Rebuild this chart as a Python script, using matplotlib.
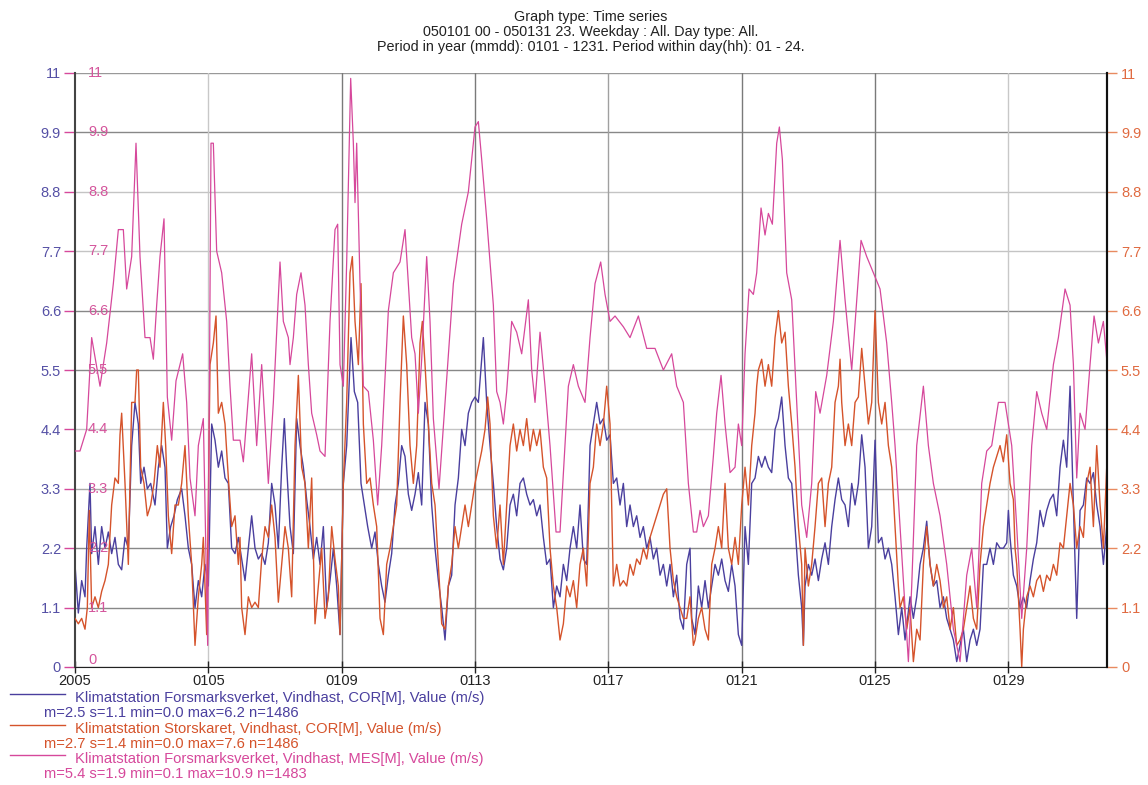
import matplotlib
matplotlib.use("Agg")
import matplotlib.pyplot as plt
from matplotlib.lines import Line2D

plt.rcParams['font.family'] = ['Liberation Sans', 'DejaVu Sans']

# day offsets from 2005-01-01 00:00, values in m/s
blue_days = [0, 0.1, 0.2, 0.3, 0.35, 0.45, 0.5, 0.6, 0.7, 0.8, 0.9, 1.0, 1.1, 1.2, 1.3, 1.4, 1.5, 1.6, 1.7, 1.8,
             1.9, 1.97, 2.07, 2.17, 2.27, 2.4, 2.5, 2.6, 2.7, 2.77, 2.87, 2.97, 3.07, 3.2, 3.3, 3.4, 3.5, 3.6, 3.7, 3.8,
             3.9, 4.0, 4.1, 4.2, 4.3, 4.4, 4.5, 4.6, 4.7, 4.8, 4.9, 5.0, 5.1, 5.2, 5.3, 5.4, 5.5, 5.6, 5.7, 5.8,
             5.9, 6.0, 6.1, 6.2, 6.28, 6.35, 6.45, 6.55, 6.65, 6.75, 6.85, 6.95, 7.05, 7.15, 7.25, 7.35, 7.45, 7.55, 7.65, 7.75,
             7.85, 7.95, 8.05, 8.15, 8.28, 8.38, 8.48, 8.58, 8.68, 8.78, 8.9, 9.0, 9.1, 9.2, 9.3, 9.4, 9.5, 9.6, 9.7, 9.8,
             9.9, 10.0, 10.1, 10.2, 10.3, 10.4, 10.5, 10.6, 10.7, 10.8, 10.9, 11.0, 11.1, 11.2, 11.3, 11.4, 11.5, 11.6, 11.7, 11.8,
             11.9, 12.0, 12.1, 12.25, 12.35, 12.45, 12.55, 12.65, 12.75, 12.85, 12.95, 13.05, 13.15, 13.25, 13.35, 13.45, 13.55, 13.65, 13.75, 13.85,
             13.95, 14.05, 14.15, 14.25, 14.35, 14.45, 14.55, 14.65, 14.75, 14.85, 14.95, 15.05, 15.15, 15.25, 15.35, 15.45, 15.55, 15.65, 15.75, 15.85,
             15.95, 16.05, 16.15, 16.25, 16.35, 16.45, 16.55, 16.65, 16.75, 16.85, 16.95, 17.05, 17.15, 17.25, 17.35, 17.45, 17.55, 17.65, 17.75, 17.85,
             17.95, 18.05, 18.15, 18.25, 18.35, 18.45, 18.5, 18.6, 18.7, 18.8, 18.9, 19.0, 19.1, 19.2, 19.3, 19.4, 19.5, 19.6, 19.7, 19.8,
             19.9, 20.0, 20.1, 20.2, 20.3, 20.4, 20.5, 20.6, 20.7, 20.8, 20.9, 21.0, 21.1, 21.2, 21.3, 21.4, 21.5, 21.6, 21.7, 21.8,
             21.85, 21.9, 22.0, 22.1, 22.2, 22.3, 22.4, 22.5, 22.6, 22.7, 22.8, 22.9, 23.0, 23.1, 23.2, 23.3, 23.4, 23.5, 23.6, 23.7,
             23.8, 23.9, 24.0, 24.1, 24.2, 24.3, 24.4, 24.5, 24.6, 24.7, 24.8, 24.9, 25.05, 25.15, 25.25, 25.35, 25.45, 25.55, 25.65, 25.75,
             25.85, 25.95, 26.05, 26.15, 26.25, 26.35, 26.45, 26.55, 26.65, 26.75, 26.85, 26.95, 27.05, 27.15, 27.25, 27.35, 27.45, 27.55, 27.65, 27.75,
             27.85, 27.95, 28.0, 28.05, 28.15, 28.25, 28.35, 28.45, 28.55, 28.65, 28.75, 28.85, 28.95, 29.05, 29.15, 29.25, 29.35, 29.45, 29.55, 29.65,
             29.75, 29.85, 29.9, 29.95, 30.05, 30.15, 30.25, 30.35, 30.45, 30.55, 30.65, 30.75, 30.85, 30.95]
blue_vals = [1.9, 1.0, 1.6, 1.3, 2.2, 3.4, 2.1, 2.6, 1.9, 2.6, 2.2, 2.5, 2.1, 2.4, 1.9, 1.8, 2.4, 2.2, 4.1, 4.9,
             4.5, 3.4, 3.7, 3.3, 3.4, 3.0, 3.7, 4.1, 3.7, 2.2, 2.6, 2.8, 3.1, 3.3, 2.8, 2.2, 1.9, 1.1, 1.6, 1.3,
             1.9, 1.5, 4.5, 4.2, 3.7, 4.0, 3.5, 3.4, 2.2, 2.1, 2.4, 2.0, 1.6, 2.2, 2.8, 2.2, 2.0, 2.1, 1.9, 2.3,
             3.4, 3.0, 2.2, 3.7, 4.6, 3.7, 2.6, 2.1, 4.6, 4.1, 3.7, 3.1, 2.6, 2.0, 2.4, 1.9, 2.6, 1.1, 1.6, 2.2,
             1.5, 0.6, 3.4, 4.1, 6.1, 5.1, 4.9, 3.4, 3.0, 2.6, 2.2, 2.5, 1.9, 1.5, 1.2, 1.7, 2.1, 3.0, 3.4, 4.1,
             3.9, 3.2, 2.9, 3.2, 3.6, 3.0, 4.9, 4.5, 3.0, 2.2, 1.6, 1.1, 0.5, 1.5, 1.7, 3.0, 3.5, 4.4, 4.1, 4.7,
             4.9, 5.0, 4.9, 6.1, 4.9, 4.1, 3.4, 2.6, 2.0, 1.8, 2.2, 3.0, 3.2, 2.8, 3.4, 3.5, 3.2, 3.0, 3.1, 2.8,
             3.0, 2.4, 1.9, 2.0, 1.1, 1.5, 1.3, 1.9, 1.6, 2.2, 2.6, 2.2, 3.0, 2.0, 1.9, 4.1, 4.5, 4.9, 4.5, 4.6,
             4.2, 4.3, 3.4, 3.5, 3.0, 3.4, 2.6, 3.0, 2.6, 2.8, 2.4, 2.6, 2.2, 2.4, 2.0, 2.2, 1.7, 1.9, 1.5, 1.9,
             1.3, 1.7, 0.9, 0.7, 1.9, 2.2, 0.9, 0.6, 1.5, 1.1, 1.6, 1.1, 1.5, 1.9, 1.7, 2.0, 1.6, 1.4, 1.9, 1.5,
             0.6, 0.4, 2.6, 1.9, 3.4, 3.5, 3.9, 3.7, 3.9, 3.7, 3.6, 4.4, 4.6, 5.0, 4.1, 3.5, 3.4, 2.6, 1.7, 1.1,
             0.4, 1.5, 1.9, 1.7, 2.0, 1.6, 2.0, 2.3, 1.9, 2.6, 3.1, 3.5, 3.1, 3.0, 2.6, 3.4, 3.0, 3.4, 4.3, 3.7,
             2.2, 2.6, 4.2, 2.3, 2.4, 2.0, 2.2, 1.9, 1.3, 0.6, 1.1, 0.5, 1.3, 0.9, 1.3, 1.9, 2.2, 2.7, 1.9, 1.5,
             1.6, 1.1, 1.3, 0.9, 0.7, 0.5, 0.1, 0.4, 0.7, 0.1, 0.5, 0.7, 0.4, 0.7, 1.9, 1.9, 2.2, 1.9, 2.3, 2.2,
             2.2, 2.3, 2.9, 2.4, 1.7, 1.5, 1.1, 1.3, 1.1, 1.6, 2.0, 2.3, 2.9, 2.6, 2.9, 3.1, 3.2, 2.8, 3.7, 4.2,
             3.7, 5.2, 4.1, 3.0, 0.9, 2.9, 3.0, 3.5, 3.4, 3.6, 3.0, 2.6, 1.9, 2.6]

orange_days = [0, 0.1, 0.2, 0.3, 0.37, 0.43, 0.5, 0.6, 0.7, 0.8, 0.9, 1.0, 1.1, 1.2, 1.3, 1.35, 1.4, 1.5, 1.6, 1.7,
               1.8, 1.85, 1.9, 1.97, 2.07, 2.17, 2.27, 2.37, 2.47, 2.55, 2.65, 2.72, 2.8, 2.9, 3.0, 3.1, 3.2, 3.3, 3.4, 3.5,
               3.6, 3.7, 3.8, 3.85, 3.95, 4.05, 4.15, 4.23, 4.3, 4.4, 4.5, 4.6, 4.7, 4.8, 4.9, 4.95, 5.0, 5.1, 5.2, 5.3,
               5.4, 5.5, 5.6, 5.7, 5.8, 5.9, 6.0, 6.1, 6.2, 6.3, 6.4, 6.5, 6.6, 6.7, 6.8, 6.9, 7.0, 7.1, 7.2, 7.3,
               7.4, 7.5, 7.6, 7.7, 7.8, 7.9, 7.95, 8.05, 8.15, 8.25, 8.32, 8.4, 8.5, 8.58, 8.65, 8.75, 8.85, 8.95, 9.05, 9.15,
               9.25, 9.35, 9.45, 9.55, 9.65, 9.75, 9.85, 9.95, 10.05, 10.15, 10.25, 10.35, 10.42, 10.5, 10.6, 10.7, 10.8, 10.9, 11.0, 11.1,
               11.2, 11.3, 11.4, 11.5, 11.6, 11.7, 11.8, 11.9, 12.0, 12.1, 12.2, 12.3, 12.38, 12.45, 12.55, 12.65, 12.75, 12.85, 12.95, 13.05,
               13.15, 13.25, 13.35, 13.45, 13.55, 13.65, 13.75, 13.85, 13.95, 14.05, 14.15, 14.25, 14.35, 14.45, 14.55, 14.65, 14.75, 14.85, 14.95, 15.05,
               15.15, 15.25, 15.35, 15.45, 15.55, 15.65, 15.75, 15.85, 15.95, 16.05, 16.15, 16.25, 16.35, 16.45, 16.55, 16.65, 16.75, 16.85, 16.95, 17.05,
               17.15, 17.25, 17.35, 17.45, 17.55, 17.65, 17.75, 17.85, 17.95, 18.05, 18.15, 18.25, 18.35, 18.45, 18.55, 18.6, 18.7, 18.8, 18.9, 19.0,
               19.1, 19.2, 19.3, 19.4, 19.5, 19.6, 19.7, 19.8, 19.9, 20.0, 20.1, 20.2, 20.3, 20.4, 20.45, 20.5, 20.6, 20.7, 20.8, 20.9,
               21.0, 21.1, 21.2, 21.3, 21.4, 21.5, 21.6, 21.7, 21.8, 21.85, 21.9, 22.0, 22.1, 22.2, 22.3, 22.4, 22.5, 22.6, 22.7, 22.8,
               22.9, 22.95, 23.0, 23.1, 23.2, 23.3, 23.4, 23.5, 23.6, 23.7, 23.8, 23.9, 24.0, 24.1, 24.2, 24.3, 24.4, 24.5, 24.6, 24.7,
               24.75, 24.85, 24.95, 25.05, 25.15, 25.25, 25.35, 25.45, 25.55, 25.65, 25.75, 25.85, 25.95, 26.05, 26.15, 26.25, 26.35, 26.45, 26.55, 26.65,
               26.75, 26.85, 26.95, 27.05, 27.15, 27.25, 27.35, 27.45, 27.55, 27.65, 27.75, 27.85, 27.95, 28.05, 28.15, 28.2, 28.25, 28.35, 28.4, 28.45,
               28.55, 28.65, 28.75, 28.85, 28.95, 29.05, 29.15, 29.25, 29.35, 29.45, 29.55, 29.65, 29.75, 29.85, 29.95, 30.05, 30.15, 30.25, 30.35, 30.45,
               30.55, 30.65, 30.75, 30.85, 30.95]
orange_vals = [0.9, 0.8, 0.9, 0.7, 1.1, 2.9, 1.1, 1.3, 1.1, 1.4, 1.6, 1.9, 3.0, 3.5, 3.4, 4.3, 4.7, 3.4, 1.9, 4.9,
               4.9, 5.5, 5.5, 3.7, 3.4, 2.8, 3.0, 3.4, 4.1, 3.7, 4.9, 4.1, 2.8, 2.1, 3.0, 3.0, 3.4, 4.1, 2.8, 1.9,
               0.4, 1.3, 1.9, 2.4, 0.6, 5.6, 6.0, 6.5, 4.7, 4.9, 4.5, 3.5, 2.6, 2.8, 1.9, 2.4, 1.1, 0.6, 1.3, 1.1,
               1.2, 1.1, 2.0, 2.6, 2.4, 3.0, 2.4, 1.2, 1.9, 2.6, 2.2, 1.3, 4.1, 5.4, 3.7, 3.4, 2.2, 3.5, 0.8, 1.5,
               2.2, 0.9, 1.3, 2.6, 2.0, 1.5, 0.6, 3.4, 4.9, 7.3, 7.6, 6.4, 5.6, 7.1, 4.5, 3.4, 3.5, 3.0, 2.6, 0.9,
               0.6, 1.9, 2.2, 2.6, 3.0, 4.9, 6.5, 5.6, 4.1, 3.4, 4.1, 6.0, 6.4, 5.6, 4.5, 3.4, 3.0, 1.9, 0.8, 0.7,
               1.5, 1.9, 2.6, 2.2, 2.6, 3.0, 2.6, 3.0, 3.4, 3.7, 4.0, 4.4, 5.0, 4.5, 2.8, 2.2, 3.0, 1.9, 3.0, 4.1,
               4.5, 4.0, 4.4, 4.1, 4.6, 4.0, 4.4, 4.1, 4.4, 3.7, 3.5, 2.2, 1.5, 1.1, 0.5, 0.8, 1.5, 1.3, 1.6, 1.1,
               1.9, 2.2, 1.5, 3.4, 3.7, 4.5, 4.1, 4.5, 5.2, 4.5, 1.5, 1.9, 1.5, 1.6, 1.5, 1.9, 1.7, 2.0, 1.9, 2.2,
               2.0, 2.4, 2.6, 2.8, 3.0, 3.2, 3.3, 2.2, 1.6, 1.3, 1.1, 0.9, 0.9, 1.3, 0.4, 0.5, 0.9, 1.1, 0.7, 0.5,
               1.9, 2.2, 2.6, 2.2, 3.4, 2.2, 1.9, 2.4, 1.9, 3.0, 3.7, 3.0, 4.1, 4.7, 5.2, 5.5, 5.7, 5.2, 5.6, 5.2,
               6.1, 6.6, 6.0, 6.2, 5.2, 4.5, 3.7, 2.6, 1.9, 0.4, 2.2, 1.5, 1.9, 2.6, 3.4, 3.5, 2.6, 3.4, 3.7, 4.9,
               5.2, 5.7, 4.9, 4.1, 4.5, 4.1, 4.9, 5.0, 5.9, 5.2, 4.5, 4.9, 6.6, 4.9, 4.5, 4.9, 4.1, 3.7, 2.6, 1.5,
               1.1, 1.3, 0.7, 1.1, 0.1, 0.7, 0.5, 1.9, 2.6, 1.9, 1.5, 1.9, 1.6, 1.1, 1.3, 0.7, 1.1, 0.4, 0.5, 0.7,
               1.1, 1.5, 0.9, 0.7, 1.9, 2.6, 3.0, 3.4, 3.7, 3.9, 4.1, 3.8, 4.3, 3.4, 3.1, 2.2, 1.9, 0.7, 0.0, 0.7,
               1.3, 1.5, 1.3, 1.6, 1.7, 1.4, 1.7, 1.6, 1.9, 1.7, 2.3, 2.2, 2.8, 3.4, 3.0, 2.2, 2.6, 2.4, 3.4, 3.7,
               2.6, 4.1, 3.0, 2.2, 3.7]

pink_days = [0, 0.15, 0.35, 0.5, 0.75, 0.95, 1.15, 1.3, 1.45, 1.55, 1.7, 1.83, 1.95, 2.1, 2.25, 2.35, 2.45, 2.55, 2.67, 2.77,
             2.9, 3.03, 3.23, 3.35, 3.45, 3.6, 3.7, 3.85, 3.98, 4.08, 4.15, 4.25, 4.4, 4.55, 4.65, 4.75, 4.95, 5.05, 5.15, 5.3,
             5.45, 5.6, 5.8, 5.95, 6.15, 6.25, 6.4, 6.45, 6.55, 6.65, 6.78, 6.9, 7.0, 7.1, 7.25, 7.35, 7.5, 7.65, 7.8, 7.88,
             7.95, 8.05, 8.15, 8.27, 8.35, 8.4, 8.45, 8.55, 8.65, 8.8, 8.95, 9.08, 9.2, 9.4, 9.55, 9.75, 9.9, 10.0, 10.1, 10.2,
             10.3, 10.4, 10.55, 10.65, 10.75, 10.92, 11.1, 11.35, 11.6, 11.8, 12.0, 12.1, 12.2, 12.35, 12.55, 12.65, 12.75, 12.85, 12.95, 13.1,
             13.25, 13.4, 13.6, 13.7, 13.8, 13.95, 14.1, 14.25, 14.43, 14.55, 14.7, 14.8, 14.95, 15.1, 15.3, 15.45, 15.6, 15.77, 15.9, 16.05,
             16.2, 16.45, 16.65, 16.9, 17.15, 17.4, 17.65, 17.9, 18.05, 18.25, 18.4, 18.55, 18.65, 18.75, 18.85, 19.0, 19.15, 19.25, 19.38, 19.5,
             19.65, 19.8, 19.9, 20.0, 20.1, 20.22, 20.35, 20.45, 20.58, 20.7, 20.8, 20.92, 21.05, 21.13, 21.22, 21.35, 21.5, 21.65, 21.8, 21.95,
             22.1, 22.22, 22.35, 22.55, 22.75, 22.95, 23.1, 23.3, 23.45, 23.58, 23.75, 23.95, 24.15, 24.35, 24.5, 24.6, 24.75, 24.9, 25.0, 25.1,
             25.25, 25.45, 25.6, 25.75, 25.95, 26.15, 26.35, 26.55, 26.75, 26.9, 27.05, 27.2, 27.35, 27.5, 27.7, 27.9, 28.1, 28.25, 28.4, 28.55,
             28.7, 28.85, 29.0, 29.15, 29.35, 29.5, 29.7, 29.85, 29.95, 30.05, 30.15, 30.3, 30.45, 30.57, 30.7, 30.85, 30.95]
pink_vals = [4.0, 4.0, 4.4, 6.1, 5.2, 6.0, 7.1, 8.1, 8.1, 7.0, 7.6, 9.7, 7.6, 6.1, 6.1, 5.7, 6.7, 7.6, 8.3, 5.0,
             4.2, 5.3, 5.8, 4.9, 3.5, 2.8, 4.1, 4.6, 0.4, 9.7, 9.7, 7.7, 7.3, 6.4, 5.2, 4.2, 4.2, 3.8, 4.6, 5.8,
             4.1, 5.6, 3.4, 4.9, 7.5, 6.4, 6.1, 5.6, 6.1, 6.9, 7.3, 6.7, 5.6, 4.7, 4.3, 4.0, 3.9, 6.4, 8.1, 8.2,
             5.6, 5.2, 7.5, 10.9, 9.7, 8.6, 9.7, 7.1, 5.2, 5.1, 4.2, 3.0, 4.1, 6.6, 7.3, 7.5, 8.1, 7.1, 6.1, 5.8,
             4.7, 5.7, 7.6, 6.4, 4.6, 3.3, 4.9, 7.1, 8.2, 8.8, 10.0, 10.1, 9.4, 8.3, 6.7, 5.1, 4.9, 4.5, 5.1, 6.4,
             6.2, 5.8, 6.8, 5.5, 4.9, 6.2, 5.2, 4.1, 2.5, 2.5, 4.1, 5.2, 5.6, 5.2, 4.9, 6.1, 7.1, 7.5, 6.9, 6.4,
             6.5, 6.3, 6.1, 6.5, 5.9, 5.9, 5.5, 5.8, 5.2, 4.9, 3.4, 2.5, 2.5, 2.9, 2.6, 2.8, 3.9, 4.7, 5.4, 4.5,
             3.6, 3.7, 4.5, 4.1, 5.8, 7.0, 6.9, 7.3, 8.5, 8.0, 8.4, 8.2, 9.7, 10.0, 9.4, 7.3, 6.8, 4.9, 3.0, 2.4,
             3.4, 5.1, 4.7, 5.4, 6.4, 7.9, 6.8, 5.5, 6.8, 7.9, 7.6, 7.3, 7.0, 6.0, 4.9, 4.1, 2.6, 1.1, 0.1, 1.5,
             4.1, 5.2, 4.1, 3.4, 2.8, 1.9, 0.7, 0.1, 1.7, 2.2, 1.1, 3.4, 4.0, 4.1, 4.9, 4.9, 4.1, 2.6, 0.9, 2.2,
             4.1, 5.1, 4.7, 4.4, 5.6, 6.1, 7.0, 6.7, 5.6, 3.5, 4.7, 4.4, 5.6, 6.5, 6.0, 6.4, 5.7]

tick_days = [0, 4, 8, 12, 16, 20, 24, 28]
tick_labels = ['2005', '0105', '0109', '0113', '0117', '0121', '0125', '0129']
y_ticks = [0, 1.1, 2.2, 3.3, 4.4, 5.5, 6.6, 7.7, 8.8, 9.9, 11]
y_labels = ['0', '1.1', '2.2', '3.3', '4.4', '5.5', '6.6', '7.7', '8.8', '9.9', '11']

series_names = ['Klimatstation Forsmarksverket, Vindhast, COR[M], Value (m/s)',
                'Klimatstation Storskaret, Vindhast, COR[M], Value (m/s)',
                'Klimatstation Forsmarksverket, Vindhast, MES[M], Value (m/s)']
series_stats = ['m=2.5 s=1.1 min=0.0 max=6.2 n=1486',
                'm=2.7 s=1.4 min=0.0 max=7.6 n=1486',
                'm=5.4 s=1.9 min=0.1 max=10.9 n=1483']

BLUE = '#4a3f9e'
ORANGE = '#d5532b'
PINK = '#d6489b'

fig = plt.figure(figsize=(11.48, 7.85), dpi=100)
ax = fig.add_axes([75 / 1148, 1 - 667 / 785, 1032 / 1148, 594 / 785])

# grid
hgrid_col = ['#888888', '#888888', '#888888', '#a8a8a8', '#c4c4c4', '#888888', '#888888',
             '#c4c4c4', '#c4c4c4', '#888888', '#999999']
for yv, c in zip(y_ticks, hgrid_col):
    ax.axhline(yv, color=c, lw=1.0, zorder=0)
vgrid_col = ['#c8c8c8', '#7a7a7a', '#7a7a7a', '#a0a0a0', '#7a7a7a', '#7a7a7a', '#c8c8c8']
for xv, c in zip(tick_days[1:], vgrid_col):
    ax.axvline(xv, color=c, lw=1.0, zorder=0)

ax.plot(blue_days, blue_vals, color=BLUE, lw=1.0, zorder=2)
ax.plot(orange_days, orange_vals, color=ORANGE, lw=1.0, zorder=3)
ax.plot(pink_days, pink_vals, color=PINK, lw=0.9, zorder=4)

ax.set_xlim(0, 30 + 23 / 24)
ax.set_ylim(0, 11)
ax.set_xticks(tick_days)
ax.set_xticklabels(tick_labels, fontsize=10.5, color='#222222')
ax.set_yticks(y_ticks)
ax.set_yticklabels(y_labels, fontsize=10.5, color='#5550a5')
ax.tick_params(axis='x', direction='inout', length=8, width=1, color='#222222', pad=1)
ax.tick_params(axis='y', direction='out', length=8, width=1, color=PINK, pad=2)

ax.spines['top'].set_visible(False)
ax.spines['left'].set_color('#444444')
ax.spines['left'].set_linewidth(1.5)
ax.spines['bottom'].set_color('#222222')
ax.spines['right'].set_color('#111111')
ax.spines['right'].set_linewidth(1.5)

ax2 = ax.twinx()
ax2.set_ylim(0, 11)
ax2.set_yticks(y_ticks)
ax2.set_yticklabels(y_labels, fontsize=10.5, color='#e06a40')
ax2.tick_params(axis='y', direction='out', length=7, width=1, color='#e88a60', pad=3)
for s in ['top', 'left', 'bottom']:
    ax2.spines[s].set_visible(False)
ax2.spines['right'].set_color('#111111')
ax2.spines['right'].set_linewidth(1.5)

# pink scale printed inside the plot
for yv, lab in zip(y_ticks, y_labels):
    yy = yv + 0.13 if yv == 0 else yv
    ax.text(0.0125, yy, lab, transform=ax.get_yaxis_transform(), fontsize=10.5,
            color='#d4559c', ha='left', va='center', zorder=5)

# title
title_lines = ['Graph type: Time series',
               '050101 00 - 050131 23. Weekday : All. Day type: All.',
               'Period in year (mmdd): 0101 - 1231. Period within day(hh): 01 - 24.']
for i, t in enumerate(title_lines):
    fig.text(591 / 1148, 1 - (17 + 15 * i) / 785, t, ha='center', va='center',
             fontsize=10.4, color='#222222')

# legend below the plot
colors = [BLUE, ORANGE, PINK]
for i, (name, stat, c) in enumerate(zip(series_names, series_stats, colors)):
    y_name = 698 + 30.5 * i
    y_stat = y_name + 15
    fig.add_artist(Line2D([10 / 1148, 65 / 1148], [1 - (y_name - 4) / 785] * 2,
                          color=c, lw=1.0, transform=fig.transFigure))
    fig.text(75 / 1148, 1 - y_name / 785, name, ha='left', va='center', fontsize=10.6, color=c)
    fig.text(44 / 1148, 1 - y_stat / 785, stat, ha='left', va='center', fontsize=10.6, color=c)

fig.savefig('out.png', dpi=100)
